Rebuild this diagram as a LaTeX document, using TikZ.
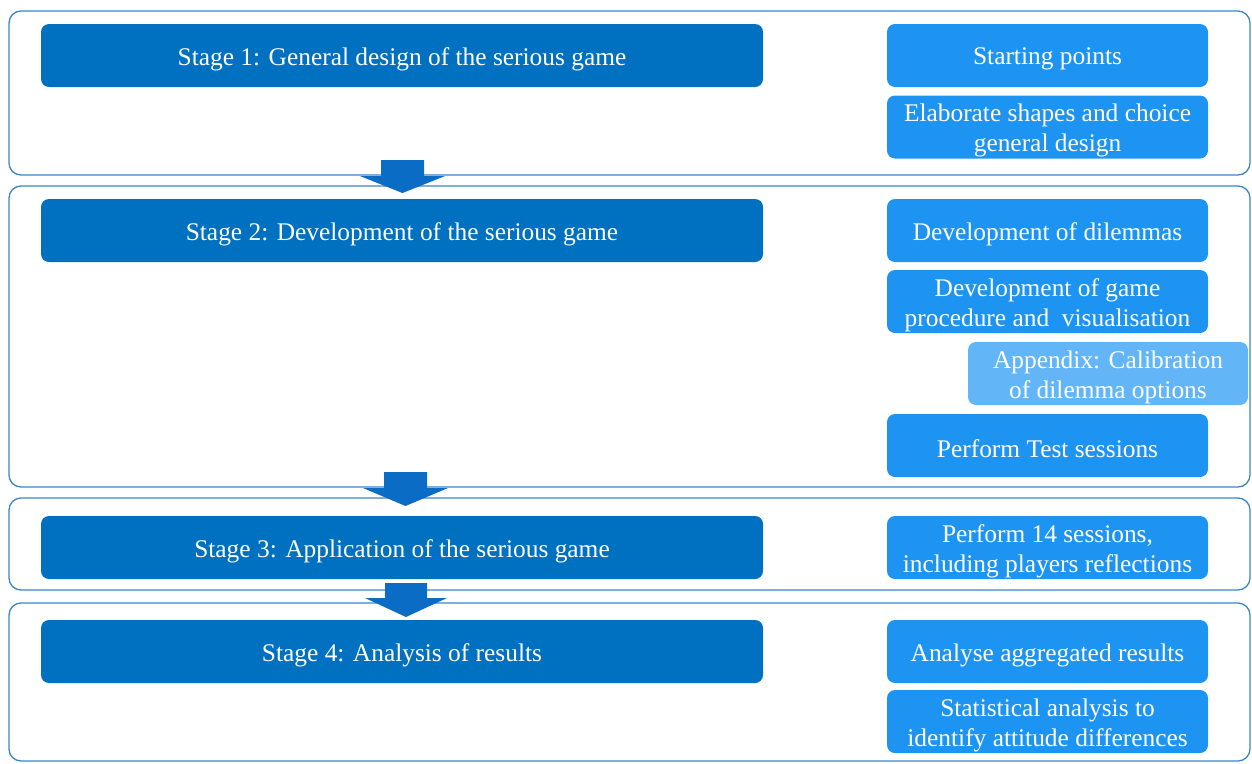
\documentclass[tikz,border=0pt]{standalone}
\usepackage{fontspec}
\setmainfont{Liberation Serif}
\definecolor{stagecol}{HTML}{0070C0}
\definecolor{stepcol}{HTML}{1E94F2}
\definecolor{appcol}{HTML}{62B6F7}
\definecolor{framecol}{HTML}{3A86C8}
\definecolor{arrowcol}{HTML}{0A6CC4}
\begin{document}
\begin{tikzpicture}[x=1pt,y=-1pt,
  txt/.style={text=white,font=\fontsize{25.4}{30}\selectfont,align=center,inner sep=0pt},
  lbl/.style={txt,yshift=-3.5pt},
  stagebox/.style={fill=stagecol,rounded corners=8pt,minimum width=722pt,minimum height=63pt,inner sep=0pt},
  stepbox/.style={fill=stepcol,rounded corners=8pt,minimum width=321pt,minimum height=63pt,inner sep=0pt},
  appbox/.style={fill=appcol,rounded corners=8pt,minimum width=280pt,minimum height=63pt,inner sep=0pt},
  framebox/.style={draw=framecol,line width=1.3pt,rounded corners=12pt},
  blockarrow/.style={fill=arrowcol}]
\useasboundingbox (0,0) rectangle (1252,763);
% frames
\draw[framebox] (9,11) rectangle (1250,175);
\draw[framebox] (9,186) rectangle (1250,487);
\draw[framebox] (9,498) rectangle (1250,590);
\draw[framebox] (9,603) rectangle (1250,761);
% stage boxes
\node[stagebox,label={[lbl]center:{Stage 1: General design of the serious game}}] (s1) at (402,55.5) {};
\node[stagebox,label={[lbl]center:{Stage 2: Development of the serious game}}] (s2) at (402,230.5) {};
\node[stagebox,label={[lbl]center:{Stage 3: Application of the serious game}}] (s3) at (402,547.5) {};
\node[stagebox,label={[lbl]center:{Stage 4: Analysis of results}}] (s4) at (402,651.5) {};
% step boxes
\node[stepbox,label={[lbl]center:{Starting points}}] (a1) at (1047.5,55.5) {};
\node[stepbox,label={[lbl]center:{Elaborate shapes and choice\\general design}}] (a2) at (1047.5,127) {};
\node[stepbox,label={[lbl]center:{Development of dilemmas}}] (b1) at (1047.5,230.5) {};
\node[stepbox,label={[lbl]center:{Development of game\\procedure and\ \ visualisation}}] (b2) at (1047.5,301.5) {};
\node[appbox,label={[lbl]center:{Appendix: Calibration\\of dilemma options}}] (b3) at (1108,373.5) {};
\node[stepbox,label={[lbl]center:{Perform Test sessions}}] (b4) at (1047.5,445.5) {};
\node[stepbox,label={[lbl]center:{Perform 14 sessions,\\including players reflections}}] (c1) at (1047.5,547.5) {};
\node[stepbox,label={[lbl]center:{Analyse aggregated results}}] (d1) at (1047.5,651.5) {};
\node[stepbox,label={[lbl]center:{Statistical analysis to\\identify attitude differences}}] (d2) at (1047.5,721.5) {};
% block arrows between stages
\fill[blockarrow] (381,160) -- (424,160) -- (424,176) -- (445,176) -- (402.5,193) -- (360,176) -- (381,176) -- cycle;
\fill[blockarrow] (384,472) -- (427,472) -- (427,488) -- (448,488) -- (405.5,506) -- (363,488) -- (384,488) -- cycle;
\fill[blockarrow] (385,583) -- (427,583) -- (427,598) -- (447,598) -- (406,617) -- (365,598) -- (385,598) -- cycle;
\end{tikzpicture}
\end{document}
